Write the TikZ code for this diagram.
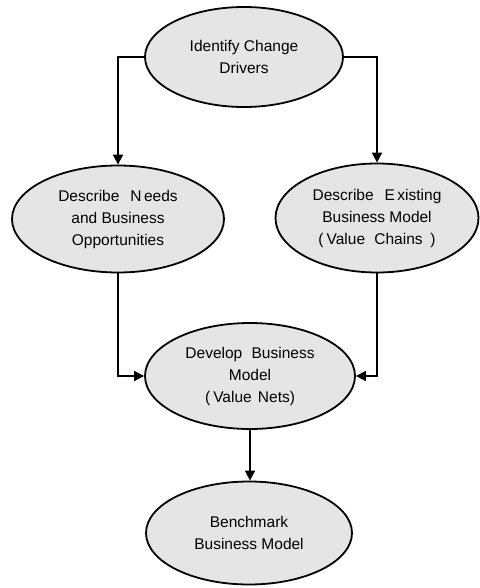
\documentclass[tikz,border=0pt]{standalone}
\usepackage{fontspec}
\setmainfont{Liberation Sans}
\usetikzlibrary{shapes.geometric,arrows.meta}
\begin{document}
\begin{tikzpicture}[x=1pt,y=-1pt,
  stage/.style={ellipse, draw=black, line width=1.8pt, fill=black!10,
    inner sep=0pt, align=center, font=\fontsize{15.5}{22}\selectfont},
  flow/.style={draw=black, line width=1.7pt, -{Triangle[length=10pt,width=10pt]}}]
\useasboundingbox (0,0) rectangle (479,588);
\node[stage, minimum width=198, minimum height=100] (drivers) at (244,57)
  {Identify Change\\Drivers};
\node[stage, minimum width=212, minimum height=107] (needs) at (118,219)
  {Describe\hspace{0.7em}N\,eeds\\and Business\\Opportunities};
\node[stage, minimum width=203, minimum height=109] (existing) at (377,218)
  {Describe\hspace{0.7em}E\,xisting\\Business Model\\(\hspace{0.2em}Value\hspace{0.6em}Chains\hspace{0.5em})};
\node[stage, minimum width=210, minimum height=106] (develop) at (250,376)
  {Develop\hspace{0.6em}Business\\Model\\(\hspace{0.2em}Value\hspace{0.4em}Nets)};
\node[stage, minimum width=206, minimum height=103] (bench) at (249,533)
  {Benchmark\\Business Model};
\draw[flow] (drivers.west) -| (needs.north);
\draw[flow] (drivers.east) -| (existing.north);
\draw[flow] (needs.south) |- (develop.west);
\draw[flow] (existing.south) |- (develop.east);
\draw[flow] (develop.south) -- (develop.south |- bench.north);
\end{tikzpicture}
\end{document}
